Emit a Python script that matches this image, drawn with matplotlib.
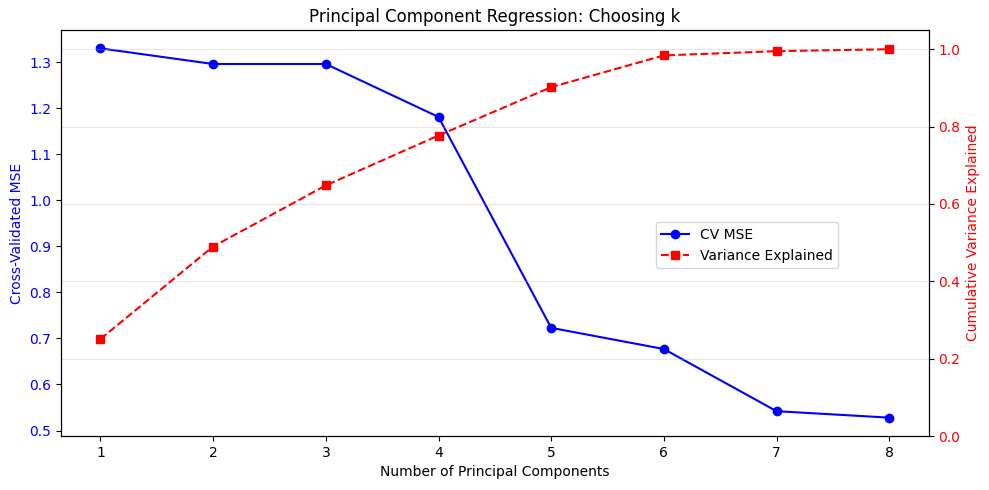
import matplotlib
matplotlib.use("Agg")
import matplotlib.pyplot as plt
import numpy as np

# data
n_components = [1, 2, 3, 4, 5, 6, 7, 8]
cv_mse = [1.330, 1.296, 1.296, 1.181, 0.723, 0.677, 0.542, 0.528]
cum_var = [0.251, 0.490, 0.648, 0.777, 0.902, 0.984, 0.995, 1.000]

fig, ax1 = plt.subplots(figsize=(9.89, 4.9), dpi=100)

l1, = ax1.plot(n_components, cv_mse, 'bo-', label='CV MSE')
ax1.set_xlabel('Number of Principal Components')
ax1.set_ylabel('Cross-Validated MSE', color='b')
ax1.tick_params(axis='y', labelcolor='b')

ax2 = ax1.twinx()
l2, = ax2.plot(n_components, cum_var, 'rs--', label='Variance Explained')
ax2.set_ylabel('Cumulative Variance Explained', color='r')
ax2.tick_params(axis='y', labelcolor='r')
ax2.set_ylim(0, 1.05)
ax2.grid(axis='y', alpha=0.3)

ax1.legend([l1, l2], ['CV MSE', 'Variance Explained'],
           loc='center right', bbox_to_anchor=(0.904, 0.47))
ax1.set_title('Principal Component Regression: Choosing k')

fig.subplots_adjust(left=0.0617, right=0.939, top=0.939, bottom=0.110)
fig.savefig('out.png')
